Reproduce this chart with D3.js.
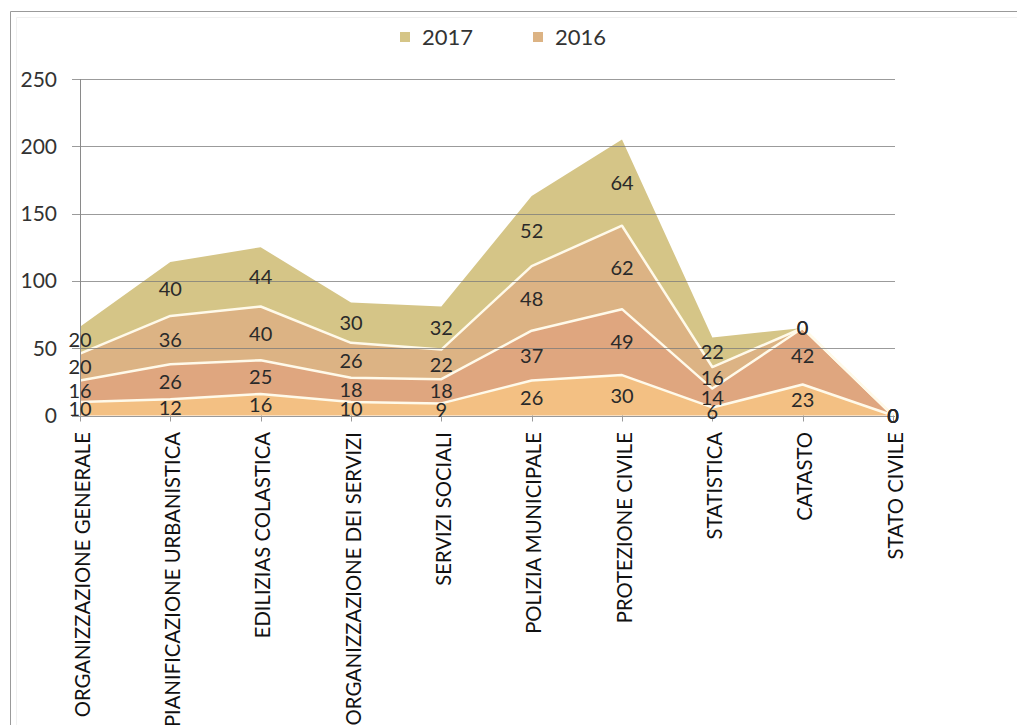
<!DOCTYPE html>
<html>
<head>
<meta charset="utf-8">
<script src="https://cdn.jsdelivr.net/npm/d3@7"></script>
<style>
  html, body { margin: 0; padding: 0; background: #fff; }
  svg { display: block; font-family: Lato, "Open Sans", sans-serif; }
</style>
</head>
<body>
<svg id="chart" width="1017" height="725"></svg>
<script>
// ---- data ----
const categories = [
  "ORGANIZZAZIONE GENERALE", "PIANIFICAZIONE URBANISTICA", "EDILIZIAS COLASTICA",
  "ORGANIZZAZIONE DEI SERVIZI", "SERVIZI SOCIALI", "POLIZIA MUNICIPALE",
  "PROTEZIONE CIVILE", "STATISTICA", "CATASTO", "STATO CIVILE"
];
const seriesNames = ["Serie A", "Serie B", "2016", "2017"];
const serieA = [10, 12, 16, 10, 9, 26, 30, 6, 23, 0];
const serieB = [16, 26, 25, 18, 18, 37, 49, 14, 42, 0];
const values2016 = [20, 36, 40, 26, 22, 48, 62, 16, 0, 0];
const values2017 = [20, 40, 44, 30, 32, 52, 64, 22, 0, 0];
const yTicks = [0, 50, 100, 150, 200, 250];
const legendItems = ["2017", "2016"];

const colors = {"Serie A": "#f3c083", "Serie B": "#dfa67f", "2016": "#dcb384", "2017": "#d5c587"};

const rows = categories.map((c, i) => ({
  cat: c, "Serie A": serieA[i], "Serie B": serieB[i], "2016": values2016[i], "2017": values2017[i]
}));

const svg = d3.select("#chart");

// outer frame
svg.append("path").attr("d", "M10.5,725 L10.5,11.5 L1017,11.5")
  .attr("fill", "none").attr("stroke", "#9a9a9a").attr("stroke-width", 1);
svg.append("path").attr("d", "M16.5,725 L16.5,17.5 L1017,17.5")
  .attr("fill", "none").attr("stroke", "#f0f0f0").attr("stroke-width", 1);

const x = d3.scalePoint().domain(categories).range([80, 893]);
const y = d3.scaleLinear().domain([0, 250]).range([415.5, 79]);

const stack = d3.stack().keys(seriesNames);
const stacked = stack(rows);

const area = d3.area()
  .x(d => x(d.data.cat))
  .y0(d => y(d[0]))
  .y1(d => y(d[1]));
const topLine = d3.line()
  .x(d => x(d.data.cat))
  .y(d => y(d[1]));

// areas
svg.append("g").selectAll("path").data(stacked).join("path")
  .attr("d", area)
  .attr("fill", d => colors[d.key]);

// white separators (tops of lower three layers)
svg.append("g").selectAll("path").data(stacked.slice(0, 3)).join("path")
  .attr("d", topLine)
  .attr("fill", "none")
  .attr("stroke", "#fffaea")
  .attr("stroke-width", 2.5)
  .attr("stroke-linejoin", "round");

// gridlines (drawn over areas)
svg.append("g").selectAll("line").data(yTicks.filter(t => t > 0)).join("line")
  .attr("x1", 72).attr("x2", 895)
  .attr("y1", d => Math.round(y(d)) + 0.5).attr("y2", d => Math.round(y(d)) + 0.5)
  .attr("stroke", "#7a7a7a").attr("stroke-opacity", 0.75).attr("stroke-width", 1.2);

// y axis line
svg.append("line").attr("x1", 80.5).attr("x2", 80.5).attr("y1", y(250)).attr("y2", y(0))
  .attr("stroke", "#8a8a8a").attr("stroke-width", 1);
// x axis
svg.append("line").attr("x1", 72).attr("x2", 895).attr("y1", Math.round(y(0)) + 0.5).attr("y2", Math.round(y(0)) + 0.5)
  .attr("stroke", "#9a9a9a").attr("stroke-width", 1);

// x ticks
svg.append("g").selectAll("line").data(categories).join("line")
  .attr("x1", d => Math.round(x(d)) + 0.5).attr("x2", d => Math.round(x(d)) + 0.5)
  .attr("y1", y(0)).attr("y2", y(0) + 6)
  .attr("stroke", "#9a9a9a");

// y labels
svg.append("g").selectAll("text").data(yTicks).join("text")
  .attr("x", 57).attr("y", d => y(d))
  .attr("dy", "0.36em")
  .attr("text-anchor", "end")
  .attr("font-size", 21)
  .attr("fill", "#333")
  .text(d => d);

// category labels
svg.append("g").selectAll("text").data(categories).join("text")
  .attr("transform", d => `translate(${x(d) + 9.5},432) rotate(-90)`)
  .attr("text-anchor", "end")
  .attr("font-size", 20.3)
  .attr("fill", "#111")
  .text(d => d);

// data labels
const labelData = [];
stacked.forEach(layer => {
  layer.forEach(d => {
    const v = d.data[layer.key];
    labelData.push({cat: d.data.cat, v, mid: (d[0] + d[1]) / 2});
  });
});
svg.append("g").selectAll("text").data(labelData).join("text")
  .attr("x", d => x(d.cat))
  .attr("y", d => y(d.mid))
  .attr("dy", "0.36em")
  .attr("text-anchor", "middle")
  .attr("font-size", 20)
  .attr("fill", "#2a2a2a")
  .text(d => d.v);

// legend
const legendX = [400, 533];
const lg = svg.append("g").selectAll("g").data(legendItems).join("g")
  .attr("transform", (d, i) => `translate(${legendX[i]},0)`);
lg.append("rect").attr("x", 0).attr("y", 32).attr("width", 10).attr("height", 10)
  .attr("fill", d => colors[d]);
lg.append("text").attr("x", 22).attr("y", 37).attr("dy", "0.36em")
  .attr("font-size", 22).attr("fill", "#333").text(d => d);
</script>
</body>
</html>
